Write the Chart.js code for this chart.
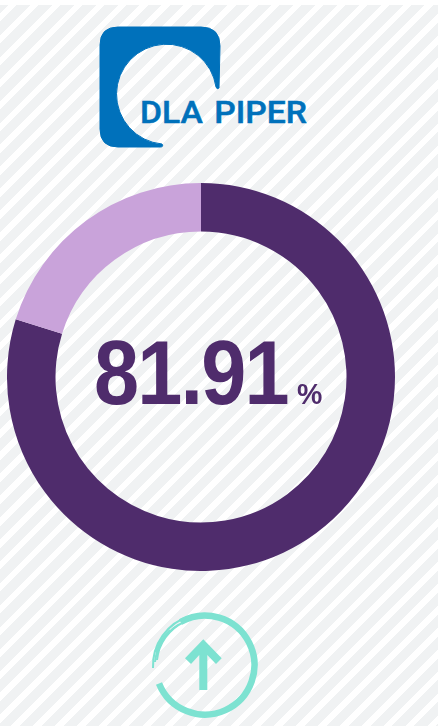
<!DOCTYPE html>
<html>
<head>
<meta charset="utf-8">
<style>
    html, body { margin: 0; padding: 0; width: 438px; height: 726px; overflow: hidden; }
    body {
        position: relative;
        background: repeating-linear-gradient(135deg, #f0f2f3 0, #f0f2f3 9.5px, #ffffff 9.5px, #ffffff 15.5px);
    }
    #topStrip { position: absolute; left: 0; top: 0; width: 438px; height: 5px; background: #fff; }
    #chartBox { position: absolute; left: 7px; top: 183px; width: 388px; height: 388px; }
    #value {
        position: absolute; left: 94px; top: 321px; white-space: nowrap;
        font: bold 90px "Liberation Sans", Arial, sans-serif; line-height: 104px;
        letter-spacing: -2px;
        color: #4f2c6c; transform: scaleX(0.9); transform-origin: left top;
    }
    #unit {
        position: absolute; left: 297px; top: 379px;
        font: bold 30px "Liberation Sans", Arial, sans-serif; line-height: 30px; color: #4f2c6c;
        transform: scaleX(0.95); transform-origin: left top;
    }
    svg { position: absolute; left: 0; top: 0; }
    #logoText { font: 500 31px Roboto, sans-serif; fill: #0071bb; stroke: #0071bb; stroke-width: 0.5px; word-spacing: 3px; }
</style>
</head>
<body>
<div id="topStrip"></div>
<svg width="438" height="726">
    <path fill="#0071bb" stroke="#0071bb" stroke-width="1" stroke-linejoin="round"
          d="M219 88 L220 46 Q220 27 201 27 L118 27 Q100 27 100 45 L100 129 Q100 147 118 147 L160 147 Q164 147 162 144 A50 50 0 1 1 216 87 Q217 90 219 88 Z"/>
    <text id="logoText" x="140" y="123" textLength="167" lengthAdjust="spacingAndGlyphs">DLA PIPER</text>
    <g fill="none" stroke="#7de2d1">
        <path stroke-width="6.5" d="M180.5 622 A49.5 49.5 0 1 1 159 683.5"/>
        <path stroke-width="2" d="M190 616 A52 52 0 0 0 153 668"/>
        <path stroke-width="2" d="M184 622 A47 47 0 0 0 157 660"/>
        <path stroke-width="2" d="M178 625 A50 50 0 0 0 155 662"/>
        <path stroke-width="2" d="M170 630 A49 49 0 0 0 156 652"/>
    </g>
    <path fill="#7de2d1" d="M203.3 639.3 L221.7 658.3 L216 664 L207.3 655 L207.3 690 L199.3 690 L199.3 655 L191 664 L185 658.3 Z"/>
</svg>
<div id="chartBox"><canvas id="donut" width="388" height="388"></canvas></div>
<div id="value"></div>
<div id="unit">%</div>
<script src="https://cdn.jsdelivr.net/npm/chart.js@4"></script>
<script>
const displayValue = '81.91';
const segmentLabels = ['Score', 'Remainder'];
const segmentValues = [79.8, 20.2];
const segmentColors = ['#4f2c6c', '#c9a3da'];

document.getElementById('value').textContent = displayValue;

new Chart(document.getElementById('donut').getContext('2d'), {
    type: 'doughnut',
    data: {
        labels: segmentLabels,
        datasets: [{
            data: segmentValues,
            backgroundColor: segmentColors,
            borderWidth: 0
        }]
    },
    options: {
        responsive: false,
        animation: false,
        cutout: '75%',
        plugins: { legend: { display: false }, tooltip: { enabled: false } }
    }
});
</script>
</body>
</html>
